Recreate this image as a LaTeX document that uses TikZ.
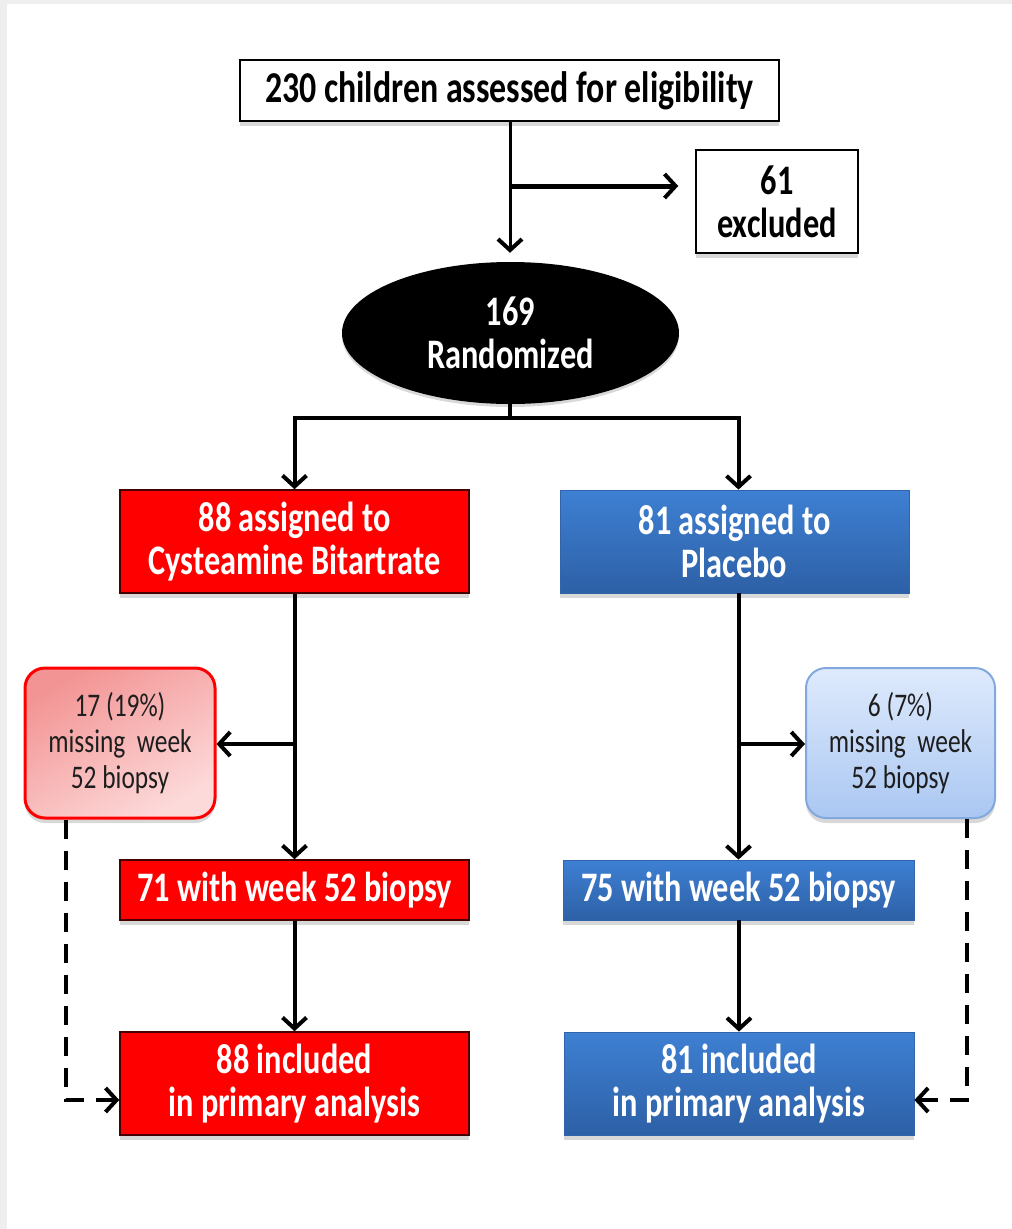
\documentclass[tikz,border=0pt]{standalone}
\usepackage{fontspec}
\setmainfont{Carlito}
\newfontfamily\cond{Carlito}[FakeStretch=0.77]
\usetikzlibrary{arrows.meta,shapes.geometric,shadows}
\definecolor{bgray}{RGB}{238,238,238}
\definecolor{redfill}{RGB}{255,0,0}
\definecolor{redline}{RGB}{70,0,0}
\definecolor{bluetop}{RGB}{62,128,211}
\definecolor{bluebot}{RGB}{45,96,166}
\definecolor{blueline}{RGB}{50,100,170}
\definecolor{pinktop}{RGB}{243,148,148}
\definecolor{pinkbot}{RGB}{253,218,218}
\definecolor{lbtop}{RGB}{222,234,252}
\definecolor{lbbot}{RGB}{170,199,242}
\definecolor{lbline}{RGB}{130,168,222}
\definecolor{dtext}{RGB}{30,30,30}
\begin{document}
\begin{tikzpicture}[x=1pt,y=-1pt,
  boxfont/.style={font=\cond\bfseries\fontsize{42}{43}\selectfont},
  shade/.style={drop shadow={shadow xshift=0pt,shadow yshift=-5pt,opacity=0.25,fill=black!60}},
  wbox/.style={boxfont,draw=black,line width=1.5pt,fill=white,align=center,inner sep=0pt,shade},
  rbox/.style={boxfont,text=white,draw=redline,line width=1.5pt,fill=redfill,align=center,inner sep=0pt,minimum width=349pt,shade},
  bbox/.style={boxfont,text=white,draw=blueline,line width=0.8pt,top color=bluetop,bottom color=bluebot,align=center,inner sep=0pt,shade},
  ell/.style={ellipse,boxfont,text=white,fill=black,minimum width=337pt,minimum height=142pt,inner sep=0pt,align=center,
     drop shadow={shadow xshift=0pt,shadow yshift=-3pt,opacity=0.3}},
  missfont/.style={font=\cond\fontsize{33}{36}\selectfont,text=dtext},
  rmiss/.style={missfont,rounded corners=20pt,draw=red,line width=3pt,top color=pinktop,bottom color=pinkbot,shading angle=30,
     minimum width=190pt,minimum height=150pt,align=center,inner sep=0pt,shade},
  bmiss/.style={missfont,rounded corners=20pt,draw=lbline,line width=2pt,top color=lbtop,bottom color=lbbot,
     minimum width=189pt,minimum height=150pt,align=center,inner sep=0pt,shade},
  arr/.style={line width=4pt,-{Straight Barb[length=11pt,width=24pt,line width=4pt]}},
  plain/.style={line width=4pt},
  dasharr/.style={line width=4pt,dash pattern=on 19pt off 12pt,-{Straight Barb[length=11pt,width=24pt,line width=4pt]}}
]
\fill[bgray] (0,0) rectangle (1012,1229);
\fill[white] (7,4) rectangle (1012,1229);
\useasboundingbox (0,0) rectangle (1012,1229);

% nodes
\node[wbox,minimum width=539pt,minimum height=61pt,font=\cond\bfseries\fontsize{44}{44}\selectfont] (top) at (509.5,90.5) {230 children assessed for eligibility};
\node[wbox,minimum width=162pt,minimum height=103pt] (excl) at (777,201.5) {61\\excluded};
\node[ell] (rand) at (510.5,333) {169\\Randomized};
\node[rbox,minimum height=103pt] (r1) at (294.5,541.5) {88 assigned to\\Cysteamine Bitartrate};
\node[bbox,minimum width=349pt,minimum height=103pt] (b1) at (734.5,541.5) {81 assigned to\\Placebo};
\node[rmiss] (rm) at (120,743) {17 (19\%)\\missing~ week\\52 biopsy};
\node[bmiss] (bm) at (900.5,743) {6 (7\%)\\missing~ week\\52 biopsy};
\node[rbox,minimum height=60pt] (r2) at (294.5,890) {71 with week 52 biopsy};
\node[bbox,minimum width=351pt,minimum height=60pt] (b2) at (738.5,890) {75 with week 52 biopsy};
\node[rbox,minimum height=103pt] (r3) at (294.5,1083.5) {88 included\\in primary analysis};
\node[bbox,minimum width=350pt,minimum height=103pt] (b3) at (739,1083.5) {81 included\\in primary analysis};

% coordinates
\coordinate (ex) at (510,186);
\coordinate (split) at (510,418);
\coordinate (rsplit) at (294.5,744);
\coordinate (bsplit) at (738.5,744);
\coordinate (dl) at (66,1100);
\coordinate (dr) at (967,1100);

% connectors
\draw[arr,line width=3pt,shorten >=9pt] (top.south -| ex) -- (rand.north -| ex);
\draw[arr,line width=5pt,shorten >=17pt] (ex) -- (ex -| excl.west);
\draw[plain] (rand.south -| split) -- (split);
\draw[arr] (split) -| (r1.north);
\draw[arr] (split) -| (b2.north |- b1.north);
\draw[arr] (r1.south) -- (r2.north);
\draw[arr] (rsplit) -- (rsplit -| rm.east);
\draw[arr] (b2.north |- b1.south) -- (b2.north);
\draw[arr] (bsplit) -- (bsplit -| bm.west);
\draw[arr] (r2.south) -- (r3.north);
\draw[arr] (b2.south -| b3.north) -- (b3.north);
\draw[dasharr] (rm.south -| dl) -- (dl) -- (dl -| r3.west);
\draw[dasharr] (bm.south -| dr) -- (dr) -- (dr -| b3.east);
\end{tikzpicture}
\end{document}
